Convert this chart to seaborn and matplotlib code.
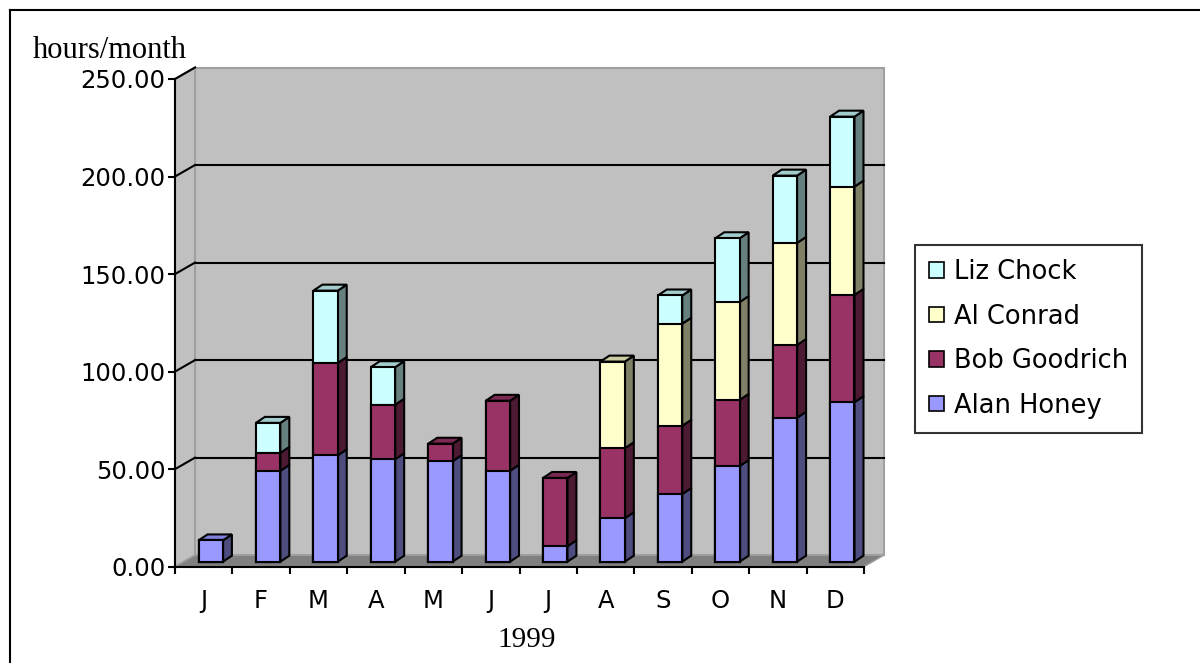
import numpy as np
import matplotlib
matplotlib.use("Agg")
import matplotlib.pyplot as plt
import matplotlib.transforms as mtransforms
from matplotlib.patches import Polygon, Patch
from matplotlib.lines import Line2D
from matplotlib.ticker import FormatStrFormatter
import seaborn as sns

# data (hours per month, 1999)
months = ["J", "F", "M", "A", "M", "J", "J", "A", "S", "O", "N", "D"]
alan_honey = [11.0, 47.0, 55.0, 53.0, 52.0, 47.0, 8.0, 22.5, 35.0, 49.5, 74.5, 82.5]
bob_goodrich = [0.0, 9.3, 47.8, 28.2, 9.0, 36.2, 35.3, 36.2, 35.3, 34.2, 37.6, 55.5]
al_conrad = [0.0, 0.0, 0.0, 0.0, 0.0, 0.0, 0.0, 44.8, 52.8, 50.6, 52.8, 56.0]
liz_chock = [0.0, 15.5, 37.4, 19.4, 0.0, 0.0, 0.0, 0.0, 14.6, 33.0, 34.8, 36.2]

names = ["Alan Honey", "Bob Goodrich", "Al Conrad", "Liz Chock"]
series = [alan_honey, bob_goodrich, al_conrad, liz_chock]
face_colors = ["#9999ff", "#993366", "#ffffcc", "#ccffff"]
side_colors = ["#4d4d80", "#4d1a33", "#808066", "#668080"]
top_colors = ["#8080dd", "#7a2952", "#cccca3", "#a3cccc"]

W, H = 1200, 663
fig = plt.figure(figsize=(12, 6.63), dpi=100)
fig.patch.set_facecolor("white")

# axes = front plane of the 3-D box
x0, x1 = 175, 864
y_top, y_bot = 79, 566.7
ax = fig.add_axes([x0 / W, 1 - y_bot / H, (x1 - x0) / W, (y_bot - y_top) / H])
ax.patch.set_visible(False)

wall_off = np.array([20, 11.5])   # back wall shift in pixels
bar_off = np.array([7, 5])        # bars sit a little behind the front plane
bar_depth = np.array([9, 6])
bar_scale = 0.991                 # slight perspective shrink of the bar plane
bar_w = 0.425

# stacked bars: draw cumulative totals from the top layer down
x = np.arange(len(months))
cum = np.cumsum(np.array(series), axis=0)
for k in range(len(series) - 1, -1, -1):
    sns.barplot(x=x, y=cum[k], color=face_colors[k], saturation=1, width=bar_w,
                edgecolor="black", linewidth=1.5, zorder=3, ax=ax)

ax.set_xlim(-0.5, 11.5)
ax.set_ylim(0, 250)
ident = mtransforms.IdentityTransform()


def px(xv, yv):
    return ax.transData.transform((xv, yv))


y0 = px(0, 0)[1]
bar_tf = (mtransforms.Affine2D().translate(0, -y0).scale(1, bar_scale)
          .translate(bar_off[0], y0 + bar_off[1]))

bars = list(ax.patches)
for p in bars:
    p.set_transform(ax.transData + bar_tf)
    p.set_clip_on(False)


def bpx(xv, yv):
    return bar_tf.transform(px(xv, yv))


def add_poly(pts, fc, ec, lw, z):
    ax.add_patch(Polygon(pts, closed=True, facecolor=fc, edgecolor=ec, linewidth=lw,
                         transform=ident, clip_on=False, zorder=z))


def add_line(p, q, color, lw, z):
    ax.add_line(Line2D([p[0], q[0]], [p[1], q[1]], color=color, linewidth=lw,
                       transform=ident, clip_on=False, zorder=z))


# walls and floor
bl, br, tl, tr = px(-0.5, 0), px(11.5, 0), px(-0.5, 250), px(11.5, 250)
add_poly([bl + wall_off, br + wall_off, tr + wall_off, tl + wall_off], "#c0c0c0", "#a0a0a0", 1.5, 0.5)
add_poly([bl, bl + wall_off, tl + wall_off, tl], "#c0c0c0", "#a0a0a0", 1.5, 0.5)
add_poly([bl, br, br + wall_off, bl + wall_off], "#808080", "#a0a0a0", 1.0, 0.6)

# gridlines on the back wall and connectors on the side wall
for v in range(50, 251, 50):
    if v < 250:
        add_line(px(-0.5, v) + wall_off, px(11.5, v) + wall_off, "black", 1.5, 0.8)
    add_line(px(-0.5, v), px(-0.5, v) + wall_off, "black", 1.5, 0.8)

# side and top faces of the bars
bottoms = np.vstack([np.zeros(len(months)), cum[:-1]])
for i in range(len(months)):
    top_k = max(k for k in range(len(series)) if series[k][i] > 0)
    for k in range(len(series)):
        if series[k][i] <= 0:
            continue
        xl = bpx(i - bar_w / 2, 0)[0]
        xr = bpx(i + bar_w / 2, 0)[0]
        yb = bpx(i, bottoms[k][i])[1]
        yt = bpx(i, cum[k][i])[1]
        add_poly([(xr, yb), (xr + bar_depth[0], yb + bar_depth[1]),
                  (xr + bar_depth[0], yt + bar_depth[1]), (xr, yt)],
                 side_colors[k], "black", 1.5, 2)
        if k == top_k:
            add_poly([(xl, yt), (xl + bar_depth[0], yt + bar_depth[1]),
                      (xr + bar_depth[0], yt + bar_depth[1]), (xr, yt)],
                     top_colors[k], "black", 1.5, 2)

# axes styling
ax.set_xlabel("")
ax.set_ylabel("")
for s in ["top", "right"]:
    ax.spines[s].set_visible(False)
for s in ["left", "bottom"]:
    ax.spines[s].set_linewidth(1.5)
    ax.spines[s].set_color("black")

ax.set_yticks(np.arange(0, 251, 50))
ax.yaxis.set_major_formatter(FormatStrFormatter("%.2f"))
ax.tick_params(axis="y", direction="out", length=5, width=1.5, pad=2, labelsize=17.5)
ax.set_xticks(x)
ax.set_xticklabels(months)
ax.set_xticks(np.arange(-0.5, 12, 1), minor=True)
ax.tick_params(axis="x", which="major", length=0, pad=16, labelsize=17.5)
ax.tick_params(axis="x", which="minor", direction="out", length=5, width=1.5)

# legend (reverse order, like the original)
handles = [Patch(facecolor=face_colors[k], edgecolor="black", linewidth=1.2) for k in range(3, -1, -1)]
labels = [names[k] for k in range(3, -1, -1)]
leg = fig.legend(handles, labels, loc="upper left", bbox_to_anchor=(915 / W, 1 - 245 / H),
                 frameon=True, fancybox=False, edgecolor="black", fontsize=18.5,
                 handlelength=0.56, handleheight=0.56, handletextpad=0.4,
                 labelspacing=0.72, borderpad=0.55, borderaxespad=0)
leg.get_frame().set_linewidth(1.5)

fig.text(33 / W, 1 - 50 / H, "hours/month", family="Liberation Serif", size=22, va="center")
fig.text(527 / W, 1 - 640 / H, "1999", family="Liberation Serif", size=21, ha="center", va="center")

# frame edges of the original picture
fig.add_artist(Line2D([10 / W, 10 / W], [0, 1 - 10 / H], transform=fig.transFigure, color="black", lw=1.5))
fig.add_artist(Line2D([10 / W, 1], [1 - 10 / H, 1 - 10 / H], transform=fig.transFigure, color="black", lw=1.5))

fig.savefig("out.png", dpi=100)
